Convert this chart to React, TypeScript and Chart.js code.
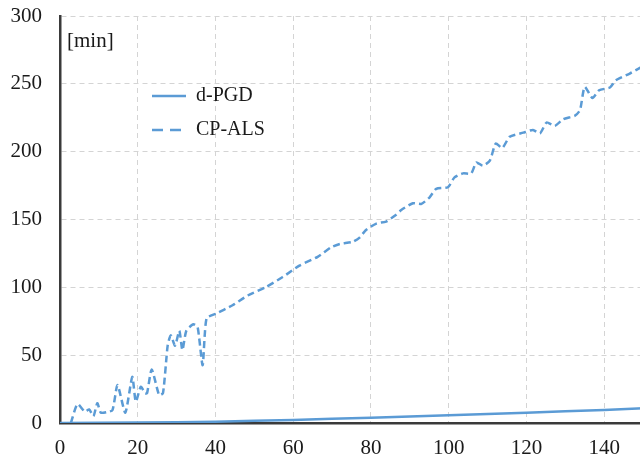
import React, { useEffect, useRef } from "react";
import { Chart, registerables } from "chart.js";

Chart.register(...registerables);

const xTickValues = [0, 20, 40, 60, 80, 100, 120, 140];
const yTickValues = [0, 50, 100, 150, 200, 250, 300];
const unitLabel = "[min]";
const seriesNames = ["d-PGD", "CP-ALS"];

const pgdX = [0, 10, 20, 30, 40, 50, 60, 70, 80, 90, 100, 110, 120, 130, 140, 150];
const pgdY = [0, 0.1, 0.3, 0.6, 1.0, 1.6, 2.3, 3.1, 3.9, 4.8, 5.7, 6.6, 7.6, 8.6, 9.6, 10.8];

const alsX = [
  2.8, 4.5, 6.4, 7.5, 8.6, 9.6, 10.5, 12, 13.5, 14.8, 16.8, 18.6, 19.5, 20.8, 21.9, 22.4,
  23.6, 25.5, 26.5, 27.7, 28.5, 29.6, 30.7, 31.5, 32.5, 34.3, 35.4, 36.7, 37.7, 40.1, 44.4,
  48.3, 53, 57.3, 61.6, 66.3, 69.8, 72, 75.3, 77, 78.8, 81.4, 83.9, 86.5, 87.8, 90.8, 93,
  95.1, 96.8, 99.8, 101.5, 103.7, 105.8, 107.1, 108.8, 110.6, 112.1, 113.8, 115.7, 119.2,
  121.7, 123.5, 125.2, 127.3, 129.5, 132.5, 133.8, 135, 137, 138.7, 141.5, 143, 146.6, 150,
];
const alsY = [
  0, 14, 8.3, 10, 5, 14.6, 7.6, 8, 9.5, 28, 7.6, 34, 15.7, 26.7, 22, 22,
  39.5, 20.6, 22, 57, 64.7, 57, 68, 53.7, 68, 72.8, 70.8, 42.6, 77, 80.6, 86.8,
  94, 100.2, 107.6, 116, 122.5, 129.6, 132, 133.5, 136.5, 142.5, 147, 148.5, 153.5, 157, 162, 161.5,
  166.4, 172.6, 173.8, 181, 184, 184, 192, 189.7, 193.4, 206, 202.7, 211, 214,
  216, 213.5, 221.5, 219, 224, 226.5, 230.7, 247.8, 239.5, 245.3, 247.3, 252.6, 257.6, 263,
];

const BLUE = "#5B9BD5";
const FONT = "'Liberation Serif', 'Times New Roman', serif";

export default function App() {
  const ref = useRef<HTMLCanvasElement>(null);

  useEffect(() => {
    document.body.style.margin = "0";
    const canvas = ref.current!;
    const legendPlugin = {
      id: "customLegend",
      afterDraw(chart: any) {
        const ctx = chart.ctx;
        ctx.save();
        ctx.font = `21px ${FONT}`;
        ctx.fillStyle = "#1a1a1a";
        ctx.textBaseline = "middle";
        ctx.textAlign = "left";
        ctx.fillText(unitLabel, 67, 41);
        ctx.font = `20px ${FONT}`;
        ctx.strokeStyle = BLUE;
        ctx.lineWidth = 2.5;
        ctx.beginPath();
        ctx.setLineDash([]);
        ctx.moveTo(152, 96);
        ctx.lineTo(186, 96);
        ctx.stroke();
        ctx.beginPath();
        ctx.setLineDash([11, 7]);
        ctx.moveTo(152, 130);
        ctx.lineTo(182, 130);
        ctx.stroke();
        ctx.setLineDash([]);
        ctx.fillText(seriesNames[0], 196, 96);
        ctx.fillText(seriesNames[1], 196, 130);
        ctx.restore();
      },
    };

    const chart = new Chart(canvas, {
      type: "line",
      data: {
        datasets: [
          {
            label: seriesNames[0],
            data: pgdX.map((x, i) => ({ x, y: pgdY[i] })),
            borderColor: BLUE,
            borderWidth: 2.5,
            pointRadius: 0,
            tension: 0,
          },
          {
            label: seriesNames[1],
            data: alsX.map((x, i) => ({ x, y: alsY[i] })),
            borderColor: BLUE,
            borderWidth: 2.5,
            borderDash: [7, 4],
            pointRadius: 0,
            tension: 0.2,
          },
        ],
      },
      options: {
        responsive: false,
        animation: false,
        layout: { padding: { top: 16, right: 0, left: 0, bottom: 0 } },
        plugins: { legend: { display: false }, tooltip: { enabled: false } },
        scales: {
          x: {
            type: "linear",
            min: 0,
            max: 150,
            afterBuildTicks: (s: any) => {
              s.ticks = xTickValues.map((v) => ({ value: v }));
            },
            afterFit: (s: any) => {
              s.height = 35;
              s.paddingLeft = 0;
              s.paddingRight = 0;
            },
            ticks: {
              font: { family: FONT, size: 21 },
              color: "#1a1a1a",
              padding: 13,
              maxRotation: 0,
            },
            grid: {
              color: "#d4d4d4",
              lineWidth: 1,
              drawTicks: false,
            },
            border: { color: "#3a3a3a", width: 2.5, dash: [5, 4] },
          },
          y: {
            type: "linear",
            min: 0,
            max: 300,
            afterBuildTicks: (s: any) => {
              s.ticks = yTickValues.map((v) => ({ value: v }));
            },
            afterFit: (s: any) => {
              s.width = 60;
              s.paddingTop = 0;
              s.paddingBottom = 0;
            },
            ticks: {
              font: { family: FONT, size: 21 },
              color: "#1a1a1a",
              padding: 18,
            },
            grid: {
              color: "#d4d4d4",
              lineWidth: 1,
              drawTicks: false,
            },
            border: { color: "#3a3a3a", width: 2.5, dash: [5, 4] },
          },
        },
      },
      plugins: [legendPlugin],
    } as any);
    return () => chart.destroy();
  }, []);

  return (
    <div style={{ width: 640, height: 458, overflow: "hidden", position: "relative" }}>
      <canvas ref={ref} width={643} height={458} style={{ display: "block" }} />
    </div>
  );
}
